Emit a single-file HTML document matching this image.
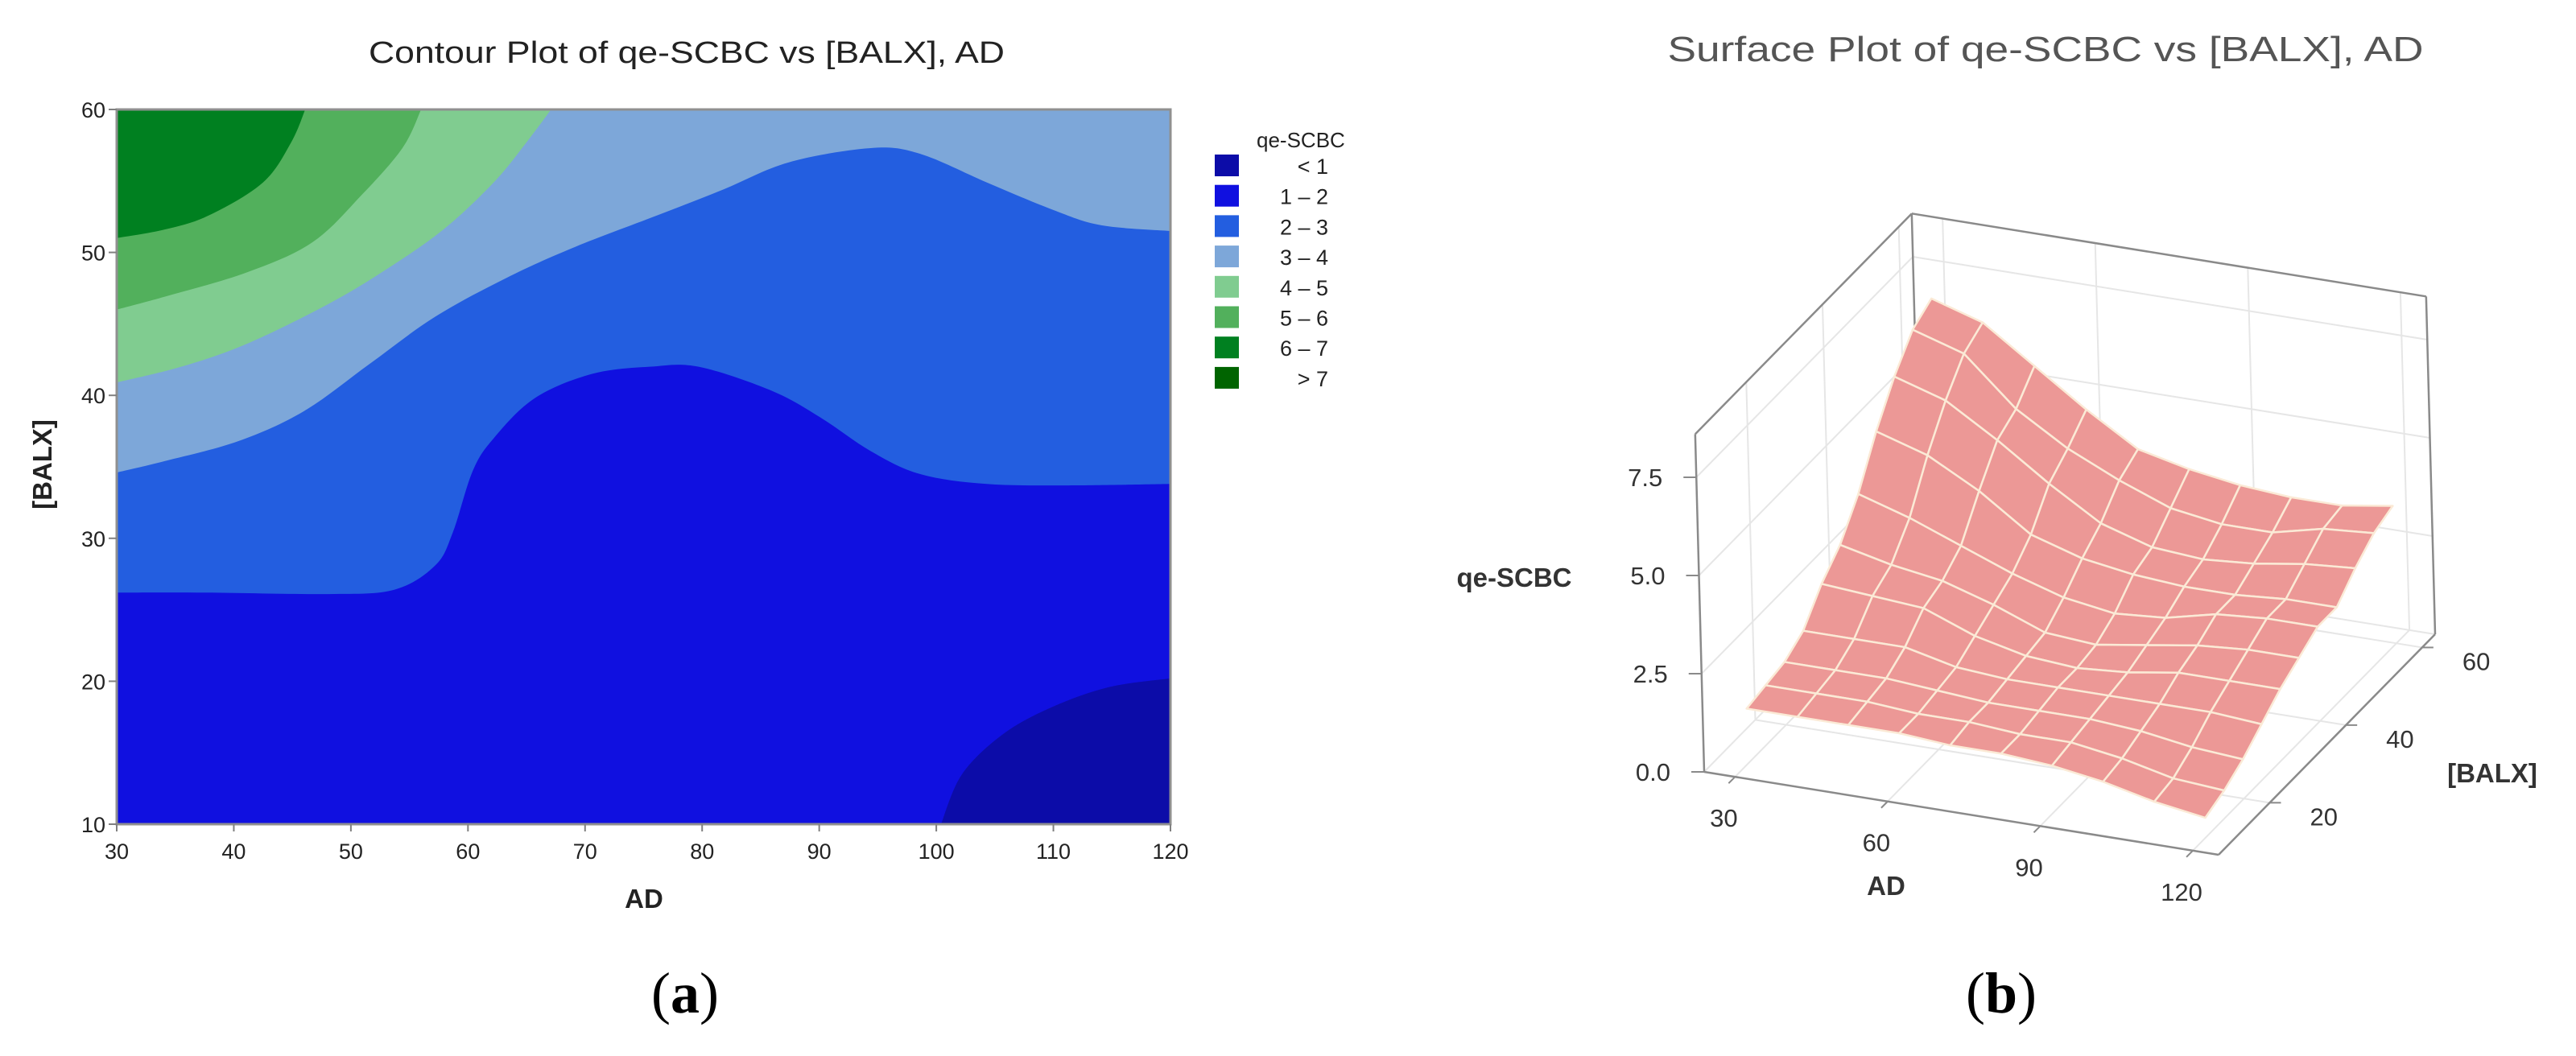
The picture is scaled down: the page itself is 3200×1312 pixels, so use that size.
<!DOCTYPE html>
<html><head><meta charset="utf-8"><style>
html,body{margin:0;padding:0;background:#fff;}
svg{display:block;font-family:"Liberation Sans",sans-serif;}
</style></head><body>
<svg id="fig" width="3200" height="1312" viewBox="0 0 3200 1312" xmlns="http://www.w3.org/2000/svg">
<g id="contour"></g>
<g id="surface"></g>
</svg>
<script>
// ---------- Contour data (boundaries in data coords [AD, BALX]) ----------
const levelColors = ["#0c0ca8","#1010e0","#235ee0","#7da7d9","#80cc90","#52b05c","#008020","#006400"];
const legendLabels = ["<   1","1  –   2","2  –   3","3  –   4","4  –   5","5  –   6","6  –   7",">   7"];
const xTicks = [30,40,50,60,70,80,90,100,110,120];
const yTicks = [10,20,30,40,50,60];
const b1 = [[100.4,10],[102.2,13.5],[105.7,16.3],[109.9,18.2],[114.8,19.6],[120,20.2]];
const b2 = [[30,26.2],[37.6,26.2],[48.1,26.1],[53.7,26.4],[57.2,28.1],[58.7,30.4],[60.4,34.7],[62.2,37.0],[65.7,39.8],[70.6,41.5],[75.5,42.0],[79.7,42.0],[86.0,40.3],[90.2,38.4],[94.4,36.1],[98.6,34.5],[104.3,33.8],[111.3,33.7],[120,33.8]];
const b3 = [[30,34.6],[34.1,35.4],[40.4,36.8],[46.0,38.9],[51.6,42.2],[57.2,45.5],[63.5,48.3],[69.2,50.4],[76.2,52.6],[81.8,54.4],[87.4,56.3],[94.4,57.3],[98.6,56.9],[104.3,54.9],[109.9,53.0],[114.1,51.9],[120,51.5]];
const b4 = [[67.1,60],[65.0,57.7],[62.2,54.9],[57.9,51.6],[53.0,48.8],[48.1,46.4],[41.1,43.6],[35.5,42.0],[30,40.9]];
const b5 = [[56.0,60],[54.4,57.3],[50.9,54.0],[46.7,50.7],[41.1,48.6],[34.1,46.9],[30,46.0]];
const b6 = [[46.1,60],[44.9,57.7],[42.5,54.9],[37.9,52.6],[34.1,51.6],[30,51.0]];

// ---------- Surface data ----------
const sAD = [30,40,50,60,70,80,90,100,110,120];
const sBALX = [10,15,20,25,30,35,40,45,50,55,60];
const sZ = [
 [1.4,1.4,1.4,1.4,1.3,1.3,1.2,1.0,0.7,0.5],
 [1.5,1.5,1.5,1.4,1.4,1.3,1.3,1.1,0.8,0.7],
 [1.6,1.6,1.6,1.5,1.4,1.4,1.4,1.3,1.1,1.0],
 [1.9,1.9,1.9,1.6,1.5,1.5,1.5,1.5,1.5,1.4],
 [2.6,2.5,2.4,1.9,1.6,1.5,1.6,1.8,1.8,1.8],
 [3.1,2.8,2.6,2.2,1.7,1.6,1.8,2.0,2.1,2.1],
 [3.9,3.5,3.0,2.5,2.1,1.9,2.0,2.3,2.4,2.4],
 [5.0,4.6,3.9,3.0,2.6,2.4,2.3,2.3,2.4,2.4],
 [5.9,5.5,4.7,3.8,3.0,2.6,2.5,2.6,2.8,2.9],
 [6.6,6.2,5.0,4.2,3.6,3.1,2.9,2.9,3.2,3.3],
 [6.9,6.5,5.6,4.7,3.9,3.6,3.4,3.3,3.3,3.5]
];
const zTicks = ["0.0","2.5","5.0","7.5"];
const zTickVals = [0,2.5,5,7.5];
const adTicks = [30,60,90,120];
const balxTicks = [20,40,60];

const NS="http://www.w3.org/2000/svg";
function mk(tag, attrs, parent, text){
  const e=document.createElementNS(NS,tag);
  for(const k in attrs) e.setAttribute(k,attrs[k]);
  if(text!==undefined) e.textContent=text;
  parent.appendChild(e); return e;
}
// ---------- Contour axes ----------
const PL=145, PR=1454, PT=136, PB=1024;
const sx = v => PL + (v-30)/90*(PR-PL);
const sy = v => PB - (v-10)/50*(PB-PT);
function smooth(pts){
  let d="M"+pts[0][0]+","+pts[0][1];
  for(let i=0;i<pts.length-1;i++){
    const p0=pts[Math.max(i-1,0)],p1=pts[i],p2=pts[i+1],p3=pts[Math.min(i+2,pts.length-1)];
    const c1=[p1[0]+(p2[0]-p0[0])/6,p1[1]+(p2[1]-p0[1])/6];
    const c2=[p2[0]-(p3[0]-p1[0])/6,p2[1]-(p3[1]-p1[1])/6];
    d+=" C"+c1[0]+","+c1[1]+" "+c2[0]+","+c2[1]+" "+p2[0]+","+p2[1];
  }
  return d;
}
const C=document.getElementById('contour');
const clip=mk('clipPath',{id:'pclip'},C); mk('rect',{x:PL,y:PT,width:PR-PL,height:PB-PT},clip);
const area=mk('g',{'clip-path':'url(#pclip)'},C);
const bg=mk('rect',{x:PL,y:PT,width:PR-PL,height:PB-PT,fill:levelColors[1]},area);


function region(b, extra, color, name){
  const pts=b.map(p=>[sx(p[0]),sy(p[1])]);
  let d=smooth(pts);
  extra.forEach(p=>{d+=" L"+sx(p[0])+","+sy(p[1]);});
  d+=" Z";
  const e=mk('path',{d:d,fill:color},area);
  
  
}
region(b1,[[120,10]],levelColors[0],'region-lt-1');
region(b2,[[120,60],[30,60]],levelColors[2],'region-2-3');
region(b3,[[120,60],[30,60]],levelColors[3],'region-3-4');
region(b4,[[30,60]],levelColors[4],'region-4-5');
region(b5,[[30,60]],levelColors[5],'region-5-6');
region(b6,[[30,60]],levelColors[6],'region-6-7');
mk('rect',{x:PL,y:PT,width:PR-PL,height:PB-PT,fill:'none',stroke:'#909090','stroke-width':3,},C);
xTicks.forEach(t=>{
  const x=sx(t);
  const l=mk('line',{x1:x,y1:PB,x2:x,y2:PB+9,stroke:'#808080','stroke-width':2},C);
  
  
  const tx=mk('text',{x:x,y:1067,'font-size':27,'text-anchor':'middle',fill:'#222'},C,String(t));
  
  
});
yTicks.forEach(t=>{
  const y=sy(t);
  const l=mk('line',{x1:PL-10,y1:y,x2:PL,y2:y,stroke:'#808080','stroke-width':2},C);
  
  
  const tx=mk('text',{x:PL-14,y:y+10,'font-size':27,'text-anchor':'end',fill:'#222'},C,String(t));
  
  
});
mk('text',{x:853,y:78,'font-size':38,'text-anchor':'middle',fill:'#222',textLength:790,lengthAdjust:'spacingAndGlyphs',},C,'Contour Plot of qe-SCBC vs [BALX], AD');
mk('text',{x:800,y:1128,'font-size':33,'font-weight':'bold','text-anchor':'middle',fill:'#222',},C,'AD');
mk('text',{x:0,y:0,'font-size':33,'font-weight':'bold','text-anchor':'middle',fill:'#222',transform:'translate(64,577) rotate(-90)',},C,'[BALX]');
// legend
const lg=mk('g',{},C);
mk('text',{x:1561,y:183,'font-size':26,fill:'#222',},lg,'qe-SCBC');
levelColors.forEach((c,i)=>{
  const y=192+i*37.7;
  const r=mk('rect',{x:1509,y:y,width:30,height:27,fill:c},lg);
  
  
  const t=mk('text',{x:1650,y:y+24,'font-size':27,'text-anchor':'end',fill:'#222','xml:space':'preserve'},lg,legendLabels[i]);
  
  
});
mk('text',{x:851,y:1258,'font-size':72,'text-anchor':'middle',fill:'#000','font-family':'Liberation Serif, serif',},C).innerHTML='(<tspan font-weight="bold">a</tspan>)';

// ---------- Surface projection ----------
const S=document.getElementById('surface');
const P0=[2117,959], A=[639,103], B=[269,-274], Cz=[-1.3,-48.8];
function proj(u,v,z){ return [P0[0]+u*A[0]+v*B[0]+z*Cz[0], P0[1]+u*A[1]+v*B[1]+z*Cz[1]]; }
const uOf = ad => 0.06+0.89*(ad-30)/90;
const vOf = bx => 0.06+0.88*(bx-10)/50;
const gridCol='#e6e6e6', boxCol='#8a8a8a';
function line(p,q,col,w,name){
  const l=mk('line',{x1:p[0],y1:p[1],x2:q[0],y2:q[1],stroke:col,'stroke-width':w},S);
  
  
}
for(const zt of zTickVals){ line(proj(0,1,zt),proj(1,1,zt),gridCol,2,'back-grid'); line(proj(0,0,zt),proj(0,1,zt),gridCol,2,'side-grid'); }
adTicks.forEach(t=>{ line(proj(uOf(t),1,0),proj(uOf(t),1,8.6),gridCol,2,'back-grid'); line(proj(uOf(t),0,0),proj(uOf(t),1,0),gridCol,2,'floor-grid'); });
balxTicks.forEach(t=>{ line(proj(0,vOf(t),0),proj(0,vOf(t),8.6),gridCol,2,'side-grid'); line(proj(0,vOf(t),0),proj(1,vOf(t),0),gridCol,2,'floor-grid'); });
line(proj(0,0,0),proj(0,0,8.6),boxCol,2.5,'z-axis-line');
line(proj(0,0,8.6),proj(0,1,8.6),boxCol,2.5,'box-edge');
line(proj(0,1,8.6),proj(1,1,8.6),boxCol,2.5,'box-edge');
line(proj(1,1,0),proj(1,1,8.6),boxCol,2.5,'box-edge');
line(proj(0,1,0),proj(0,1,8.6),boxCol,2.5,'box-edge');
line(proj(0,0,0),proj(1,0,0),boxCol,2.5,'ad-axis-line');
line(proj(1,0,0),proj(1,1,0),boxCol,2.5,'balx-axis-line');
for(let j=sBALX.length-2;j>=0;j--){
  for(let i=0;i<sAD.length-1;i++){
    const q=[[i,j],[i+1,j],[i+1,j+1],[i,j+1]].map(([a,b])=>proj(uOf(sAD[a]),vOf(sBALX[b]),sZ[b][a]));
    const p=mk('polygon',{points:q.map(x=>x.join(',')).join(' '),fill:'#ec9896',stroke:'#fbead6','stroke-width':2.5,'stroke-linejoin':'round'},S);
    
    
  }
}
zTickVals.forEach((z,i)=>{
  const p=proj(0,0,z);
  line([p[0]-16,p[1]],p,boxCol,2,'z-tick');
  const t=mk('text',{x:p[0]-42,y:p[1]+11,'font-size':31,'text-anchor':'end',fill:'#333'},S,zTicks[i]);
  
  
});
adTicks.forEach(a=>{
  const p=proj(uOf(a),0,0);
  line(p,[p[0]-8,p[1]+8],boxCol,2,'ad-tick');
  const t=mk('text',{x:p[0]-14,y:p[1]+62,'font-size':31,'text-anchor':'middle',fill:'#333'},S,String(a));
  
  
});
balxTicks.forEach(b=>{
  const p=proj(1,vOf(b),0);
  line(p,[p[0]+14,p[1]],boxCol,2,'balx-tick');
  const t=mk('text',{x:p[0]+50,y:p[1]+28,'font-size':31,'text-anchor':'start',fill:'#333'},S,String(b));
  
  
});
mk('text',{x:1881,y:729,'font-size':33,'font-weight':'bold','text-anchor':'middle',fill:'#333',},S,'qe-SCBC');
mk('text',{x:2343,y:1112,'font-size':33,'font-weight':'bold','text-anchor':'middle',fill:'#333',},S,'AD');
mk('text',{x:3096,y:972,'font-size':33,'font-weight':'bold','text-anchor':'middle',fill:'#333',},S,'[BALX]');
mk('text',{x:2541,y:76,'font-size':44,'text-anchor':'middle',fill:'#555',textLength:939,lengthAdjust:'spacingAndGlyphs',},S,'Surface Plot of qe-SCBC vs [BALX], AD');
mk('text',{x:2486,y:1258,'font-size':72,'text-anchor':'middle',fill:'#000','font-family':'Liberation Serif, serif',},S).innerHTML='(<tspan font-weight="bold">b</tspan>)';
</script>
</body></html>
